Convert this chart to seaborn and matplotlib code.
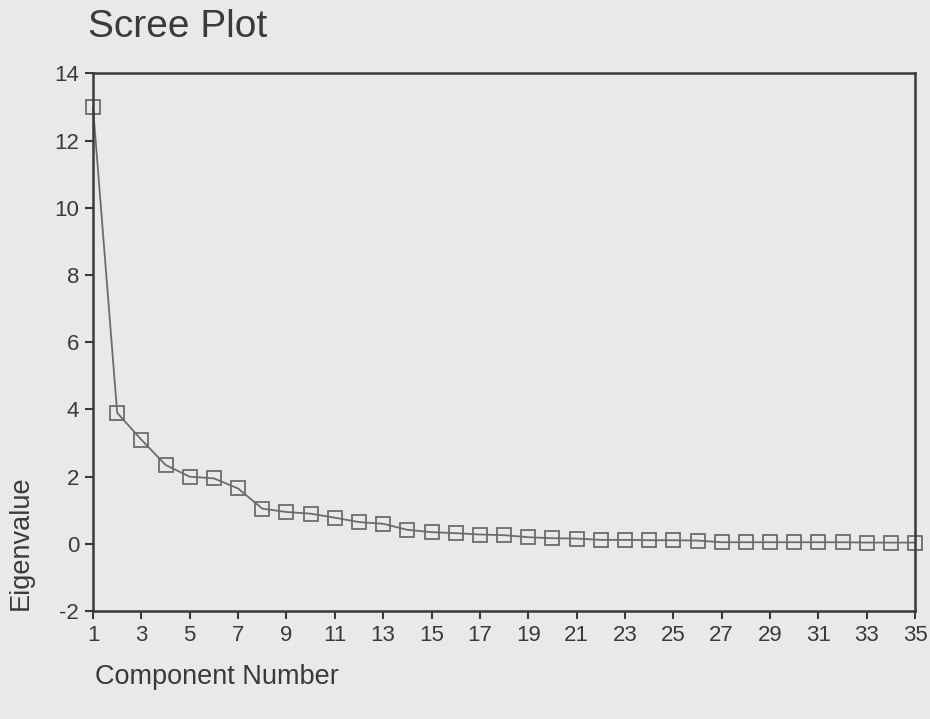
import matplotlib
matplotlib.use("Agg")
import matplotlib.pyplot as plt
import numpy as np
import pandas as pd
import seaborn as sns

# eigenvalues
components = list(range(1, 36))
eigenvalues = [
    13.0, 3.9, 3.1, 2.35, 2.0, 1.95, 1.65, 1.05, 0.95, 0.9,
    0.78, 0.65, 0.6, 0.42, 0.35, 0.32, 0.28, 0.26, 0.2, 0.17,
    0.16, 0.12, 0.12, 0.11, 0.11, 0.1, 0.05, 0.05, 0.05, 0.05,
    0.05, 0.05, 0.04, 0.04, 0.04,
]
x_ticks = list(range(1, 36, 2))
y_ticks = list(range(-2, 15, 2))

bg = "#e9e9e8"
ink = "#3a3a3a"
mark = "#6c6c6c"

sns.set_style("ticks")
plt.rcParams["font.family"] = ["Liberation Sans", "DejaVu Sans"]
plt.rcParams["axes.unicode_minus"] = False

df = pd.DataFrame({"component": components, "eigenvalue": eigenvalues})

fig = plt.figure(figsize=(9.3, 7.19), dpi=100, facecolor=bg)
ax = fig.add_axes([0.1, 0.15, 0.884, 0.748])
ax.set_facecolor(bg)

sns.lineplot(
    data=df, x="component", y="eigenvalue", ax=ax,
    color=mark, linewidth=1.3, marker="s", markersize=10,
    markerfacecolor="none", markeredgecolor=mark, markeredgewidth=1.3,
    clip_on=False,
)

ax.set_xlim(1, 35)
ax.set_ylim(-2, 14)
ax.set_xticks(x_ticks)
ax.set_yticks(y_ticks)
ax.tick_params(axis="both", labelsize=16, colors=ink, length=6, width=1.5,
               direction="out", pad=4)
for side in ["left", "bottom", "right", "top"]:
    ax.spines[side].set_visible(True)
    ax.spines[side].set_color(ink)
    ax.spines[side].set_linewidth(1.8)
ax.set_xlabel("")
ax.set_ylabel("")

fig.text(0.095, 0.962, "Scree Plot", fontsize=28, color=ink, ha="left", va="center")
fig.text(0.102, 0.058, "Component Number", fontsize=19.5, color=ink,
         ha="left", va="center")
fig.text(0.022, 0.151, "Eigenvalue", fontsize=19.5, color=ink, rotation=90,
         ha="center", va="bottom")

fig.savefig("out.png", dpi=100, facecolor=bg)
